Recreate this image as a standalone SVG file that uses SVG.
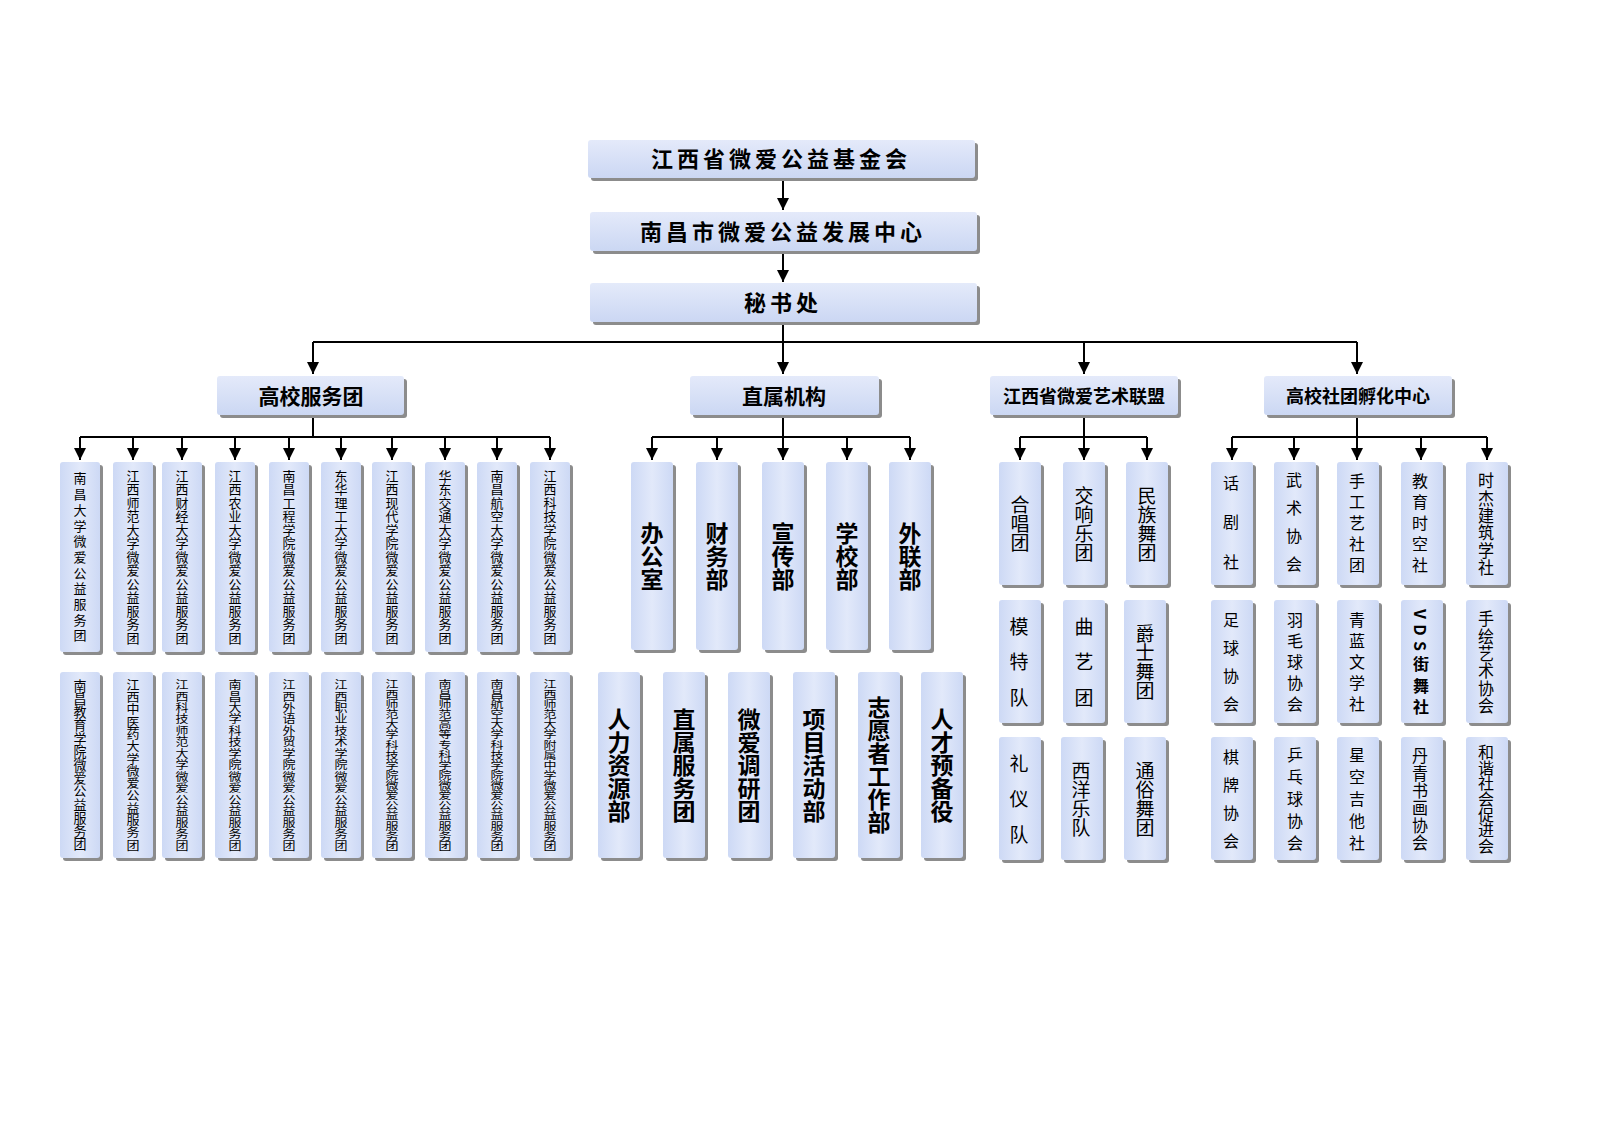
<svg xmlns="http://www.w3.org/2000/svg" width="1600" height="1131" viewBox="0 0 1600 1131">
<defs>
<linearGradient id="g" x1="0" y1="0" x2="1" y2="0"><stop offset="0" stop-color="#cdd9f5"/><stop offset="0.5" stop-color="#e2e9fa"/><stop offset="1" stop-color="#cdd9f5"/></linearGradient>
<linearGradient id="gh" x1="0" y1="0" x2="0" y2="1"><stop offset="0" stop-color="#e4eafa"/><stop offset="1" stop-color="#cbd7f3"/></linearGradient>
<marker id="a" markerWidth="12" markerHeight="12" refX="12" refY="6" orient="auto" markerUnits="userSpaceOnUse" viewBox="0 0 12 12"><path d="M0,0 L12,6 L0,12 Z" fill="#000"/></marker>
</defs>
<style>
.s{fill:#8c8c8c}
.b{fill:url(#g)}
.h{fill:url(#gh)}
text{font-family:"Noto Sans CJK SC","Liberation Serif",serif;fill:#000}
.t1{font-size:22px;font-weight:bold;text-anchor:middle;letter-spacing:4px}
.t2{font-size:21px;font-weight:bold;text-anchor:middle}
.v{writing-mode:vertical-rl;text-anchor:middle;font-size:13px}
.vb{writing-mode:vertical-rl;text-anchor:middle;font-size:23px;font-weight:bold}
.vm{writing-mode:vertical-rl;text-anchor:middle;font-size:19px}
.c line{stroke:#000;stroke-width:2;fill:none}
</style>
<rect width="1600" height="1131" fill="#fff"/>
<g class="c">
<line x1="783" y1="179" x2="783" y2="210" marker-end="url(#a)"/>
<line x1="783" y1="252" x2="783" y2="282" marker-end="url(#a)"/>
<line x1="783" y1="323" x2="783" y2="374" marker-end="url(#a)"/>
<line x1="313" y1="342" x2="1357" y2="342"/>
<line x1="313" y1="342" x2="313" y2="374" marker-end="url(#a)"/>
<line x1="1084" y1="342" x2="1084" y2="374" marker-end="url(#a)"/>
<line x1="1357" y1="342" x2="1357" y2="374" marker-end="url(#a)"/>
<line x1="313" y1="416" x2="313" y2="437"/>
<line x1="80" y1="437" x2="550" y2="437"/>
<line x1="80" y1="437" x2="80" y2="460" marker-end="url(#a)"/><line x1="133" y1="437" x2="133" y2="460" marker-end="url(#a)"/><line x1="182" y1="437" x2="182" y2="460" marker-end="url(#a)"/><line x1="235" y1="437" x2="235" y2="460" marker-end="url(#a)"/><line x1="289" y1="437" x2="289" y2="460" marker-end="url(#a)"/><line x1="341" y1="437" x2="341" y2="460" marker-end="url(#a)"/><line x1="392" y1="437" x2="392" y2="460" marker-end="url(#a)"/><line x1="445" y1="437" x2="445" y2="460" marker-end="url(#a)"/><line x1="497" y1="437" x2="497" y2="460" marker-end="url(#a)"/><line x1="550" y1="437" x2="550" y2="460" marker-end="url(#a)"/>
<line x1="783" y1="416" x2="783" y2="460" marker-end="url(#a)"/>
<line x1="652" y1="437" x2="910" y2="437"/>
<line x1="652" y1="437" x2="652" y2="460" marker-end="url(#a)"/><line x1="717" y1="437" x2="717" y2="460" marker-end="url(#a)"/><line x1="847" y1="437" x2="847" y2="460" marker-end="url(#a)"/><line x1="910" y1="437" x2="910" y2="460" marker-end="url(#a)"/>
<line x1="1084" y1="416" x2="1084" y2="460" marker-end="url(#a)"/>
<line x1="1020" y1="437" x2="1147" y2="437"/>
<line x1="1020" y1="437" x2="1020" y2="460" marker-end="url(#a)"/><line x1="1147" y1="437" x2="1147" y2="460" marker-end="url(#a)"/>
<line x1="1357" y1="416" x2="1357" y2="460" marker-end="url(#a)"/>
<line x1="1232" y1="437" x2="1487" y2="437"/>
<line x1="1232" y1="437" x2="1232" y2="460" marker-end="url(#a)"/><line x1="1294" y1="437" x2="1294" y2="460" marker-end="url(#a)"/><line x1="1421" y1="437" x2="1421" y2="460" marker-end="url(#a)"/><line x1="1487" y1="437" x2="1487" y2="460" marker-end="url(#a)"/>
</g>
<g id="n-top"><rect class="s" x="591" y="143" width="387" height="38" rx="3"/><rect class="h" x="588" y="140" width="387" height="38" rx="3"/><text class="t1" x="781" y="167">江西省微爱公益基金会</text></g>
<g id="n-nc"><rect class="s" x="593" y="215" width="387" height="39" rx="3"/><rect class="h" x="590" y="212" width="387" height="39" rx="3"/><text class="t1" x="783" y="240">南昌市微爱公益发展中心</text></g>
<g id="n-msc"><rect class="s" x="593" y="286" width="387" height="39" rx="3"/><rect class="h" x="590" y="283" width="387" height="39" rx="3"/><text class="t1" x="783" y="311">秘书处</text></g>
<g id="n-gx"><rect class="s" x="220" y="379" width="187" height="39" rx="3"/><rect class="h" x="217" y="376" width="187" height="39" rx="3"/><text class="t2" x="311" y="404">高校服务团</text></g>
<g id="n-zs"><rect class="s" x="693" y="379" width="189" height="39" rx="3"/><rect class="h" x="690" y="376" width="189" height="39" rx="3"/><text class="t2" x="784" y="404">直属机构</text></g>
<g id="n-ys"><rect class="s" x="993" y="379" width="188" height="39" rx="3"/><rect class="h" x="990" y="376" width="188" height="39" rx="3"/><text class="t2" x="1084" y="403" style="font-size:18px">江西省微爱艺术联盟</text></g>
<g id="n-st"><rect class="s" x="1267" y="379" width="188" height="39" rx="3"/><rect class="h" x="1264" y="376" width="188" height="39" rx="3"/><text class="t2" x="1358" y="403" style="font-size:18px">高校社团孵化中心</text></g>

<g id="u1"><rect class="s" x="63" y="465" width="40" height="190" rx="3"/><rect class="b" x="60" y="462" width="40" height="190" rx="3"/><text class="v" x="80" y="557" textLength="170" lengthAdjust="spacing">南昌大学微爱公益服务团</text></g>
<g id="u2"><rect class="s" x="116" y="465" width="40" height="190" rx="3"/><rect class="b" x="113" y="462" width="40" height="190" rx="3"/><text class="v" x="133" y="557" textLength="175" lengthAdjust="spacing">江西师范大学微爱公益服务团</text></g>
<g id="u3"><rect class="s" x="165" y="465" width="40" height="190" rx="3"/><rect class="b" x="162" y="462" width="40" height="190" rx="3"/><text class="v" x="182" y="557" textLength="175" lengthAdjust="spacing">江西财经大学微爱公益服务团</text></g>
<g id="u4"><rect class="s" x="218" y="465" width="40" height="190" rx="3"/><rect class="b" x="215" y="462" width="40" height="190" rx="3"/><text class="v" x="235" y="557" textLength="175" lengthAdjust="spacing">江西农业大学微爱公益服务团</text></g>
<g id="u5"><rect class="s" x="272" y="465" width="40" height="190" rx="3"/><rect class="b" x="269" y="462" width="40" height="190" rx="3"/><text class="v" x="289" y="557" textLength="175" lengthAdjust="spacing">南昌工程学院微爱公益服务团</text></g>
<g id="u6"><rect class="s" x="324" y="465" width="40" height="190" rx="3"/><rect class="b" x="321" y="462" width="40" height="190" rx="3"/><text class="v" x="341" y="557" textLength="175" lengthAdjust="spacing">东华理工大学微爱公益服务团</text></g>
<g id="u7"><rect class="s" x="375" y="465" width="40" height="190" rx="3"/><rect class="b" x="372" y="462" width="40" height="190" rx="3"/><text class="v" x="392" y="557" textLength="175" lengthAdjust="spacing">江西现代学院微爱公益服务团</text></g>
<g id="u8"><rect class="s" x="428" y="465" width="40" height="190" rx="3"/><rect class="b" x="425" y="462" width="40" height="190" rx="3"/><text class="v" x="445" y="557" textLength="175" lengthAdjust="spacing">华东交通大学微爱公益服务团</text></g>
<g id="u9"><rect class="s" x="480" y="465" width="40" height="190" rx="3"/><rect class="b" x="477" y="462" width="40" height="190" rx="3"/><text class="v" x="497" y="557" textLength="175" lengthAdjust="spacing">南昌航空大学微爱公益服务团</text></g>
<g id="u10"><rect class="s" x="533" y="465" width="40" height="190" rx="3"/><rect class="b" x="530" y="462" width="40" height="190" rx="3"/><text class="v" x="550" y="557" textLength="175" lengthAdjust="spacing">江西科技学院微爱公益服务团</text></g>

<g id="u11"><rect class="s" x="63" y="675" width="40" height="186" rx="3"/><rect class="b" x="60" y="672" width="40" height="186" rx="3"/><text class="v" x="80" y="765" textLength="172" lengthAdjust="spacingAndGlyphs">南昌教育学院微爱公益服务团</text></g>
<g id="u12"><rect class="s" x="116" y="675" width="40" height="186" rx="3"/><rect class="b" x="113" y="672" width="40" height="186" rx="3"/><text class="v" x="133" y="765" textLength="172" lengthAdjust="spacingAndGlyphs">江西中医药大学微爱公益服务团</text></g>
<g id="u13"><rect class="s" x="165" y="675" width="40" height="186" rx="3"/><rect class="b" x="162" y="672" width="40" height="186" rx="3"/><text class="v" x="182" y="765" textLength="172" lengthAdjust="spacingAndGlyphs">江西科技师范大学微爱公益服务团</text></g>
<g id="u14"><rect class="s" x="218" y="675" width="40" height="186" rx="3"/><rect class="b" x="215" y="672" width="40" height="186" rx="3"/><text class="v" x="235" y="765" textLength="172" lengthAdjust="spacingAndGlyphs">南昌大学科技学院微爱公益服务团</text></g>
<g id="u15"><rect class="s" x="272" y="675" width="40" height="186" rx="3"/><rect class="b" x="269" y="672" width="40" height="186" rx="3"/><text class="v" x="289" y="765" textLength="172" lengthAdjust="spacingAndGlyphs">江西外语外贸学院微爱公益服务团</text></g>
<g id="u16"><rect class="s" x="324" y="675" width="40" height="186" rx="3"/><rect class="b" x="321" y="672" width="40" height="186" rx="3"/><text class="v" x="341" y="765" textLength="172" lengthAdjust="spacingAndGlyphs">江西职业技术学院微爱公益服务团</text></g>
<g id="u17"><rect class="s" x="375" y="675" width="40" height="186" rx="3"/><rect class="b" x="372" y="672" width="40" height="186" rx="3"/><text class="v" x="392" y="765" textLength="172" lengthAdjust="spacingAndGlyphs">江西师范大学科技学院微爱公益服务团</text></g>
<g id="u18"><rect class="s" x="428" y="675" width="40" height="186" rx="3"/><rect class="b" x="425" y="672" width="40" height="186" rx="3"/><text class="v" x="445" y="765" textLength="172" lengthAdjust="spacingAndGlyphs">南昌师范高等专科学院微爱公益服务团</text></g>
<g id="u19"><rect class="s" x="480" y="675" width="40" height="186" rx="3"/><rect class="b" x="477" y="672" width="40" height="186" rx="3"/><text class="v" x="497" y="765" textLength="172" lengthAdjust="spacingAndGlyphs">南昌航空大学科技学院微爱公益服务团</text></g>
<g id="u20"><rect class="s" x="533" y="675" width="40" height="186" rx="3"/><rect class="b" x="530" y="672" width="40" height="186" rx="3"/><text class="v" x="550" y="765" textLength="172" lengthAdjust="spacingAndGlyphs">江西师范大学附属中学微爱公益服务团</text></g>

<g id="z1"><rect class="s" x="634" y="465" width="42" height="188" rx="3"/><rect class="b" x="631" y="462" width="42" height="188" rx="3"/><text class="vb" x="652" y="556">办公室</text></g>
<g id="z2"><rect class="s" x="699" y="465" width="42" height="188" rx="3"/><rect class="b" x="696" y="462" width="42" height="188" rx="3"/><text class="vb" x="717" y="556">财务部</text></g>
<g id="z3"><rect class="s" x="765" y="465" width="42" height="188" rx="3"/><rect class="b" x="762" y="462" width="42" height="188" rx="3"/><text class="vb" x="783" y="556">宣传部</text></g>
<g id="z4"><rect class="s" x="829" y="465" width="42" height="188" rx="3"/><rect class="b" x="826" y="462" width="42" height="188" rx="3"/><text class="vb" x="847" y="556">学校部</text></g>
<g id="z5"><rect class="s" x="892" y="465" width="42" height="188" rx="3"/><rect class="b" x="889" y="462" width="42" height="188" rx="3"/><text class="vb" x="910" y="556">外联部</text></g>

<g id="z6"><rect class="s" x="601" y="675" width="42" height="186" rx="3"/><rect class="b" x="598" y="672" width="42" height="186" rx="3"/><text class="vb" x="619" y="765">人力资源部</text></g>
<g id="z7"><rect class="s" x="666" y="675" width="42" height="186" rx="3"/><rect class="b" x="663" y="672" width="42" height="186" rx="3"/><text class="vb" x="684" y="765">直属服务团</text></g>
<g id="z8"><rect class="s" x="731" y="675" width="42" height="186" rx="3"/><rect class="b" x="728" y="672" width="42" height="186" rx="3"/><text class="vb" x="749" y="765">微爱调研团</text></g>
<g id="z9"><rect class="s" x="796" y="675" width="42" height="186" rx="3"/><rect class="b" x="793" y="672" width="42" height="186" rx="3"/><text class="vb" x="814" y="765">项目活动部</text></g>
<g id="z10"><rect class="s" x="861" y="675" width="42" height="186" rx="3"/><rect class="b" x="858" y="672" width="42" height="186" rx="3"/><text class="vb" x="879" y="765">志愿者工作部</text></g>
<g id="z11"><rect class="s" x="924" y="675" width="42" height="186" rx="3"/><rect class="b" x="921" y="672" width="42" height="186" rx="3"/><text class="vb" x="942" y="765">人才预备役</text></g>

<g id="y1"><rect class="s" x="1002" y="465" width="42" height="123" rx="3"/><rect class="b" x="999" y="462" width="42" height="123" rx="3"/><text class="vm" x="1020" y="524">合唱团</text></g>
<g id="y2"><rect class="s" x="1066" y="465" width="42" height="123" rx="3"/><rect class="b" x="1063" y="462" width="42" height="123" rx="3"/><text class="vm" x="1084" y="524">交响乐团</text></g>
<g id="y3"><rect class="s" x="1129" y="465" width="42" height="123" rx="3"/><rect class="b" x="1126" y="462" width="42" height="123" rx="3"/><text class="vm" x="1147" y="524">民族舞团</text></g>
<g id="y4"><rect class="s" x="1002" y="603" width="42" height="123" rx="3"/><rect class="b" x="999" y="600" width="42" height="123" rx="3"/><text class="vm" x="1019" y="662" textLength="90" lengthAdjust="spacing">模特队</text></g>
<g id="y5"><rect class="s" x="1066" y="603" width="42" height="123" rx="3"/><rect class="b" x="1063" y="600" width="42" height="123" rx="3"/><text class="vm" x="1084" y="662" textLength="90" lengthAdjust="spacing">曲艺团</text></g>
<g id="y6"><rect class="s" x="1127" y="603" width="42" height="123" rx="3"/><rect class="b" x="1124" y="600" width="42" height="123" rx="3"/><text class="vm" x="1145" y="662">爵士舞团</text></g>
<g id="y7"><rect class="s" x="1002" y="740" width="42" height="123" rx="3"/><rect class="b" x="999" y="737" width="42" height="123" rx="3"/><text class="vm" x="1019" y="799" textLength="90" lengthAdjust="spacing">礼仪队</text></g>
<g id="y8"><rect class="s" x="1064" y="740" width="42" height="123" rx="3"/><rect class="b" x="1061" y="737" width="42" height="123" rx="3"/><text class="vm" x="1081" y="799">西洋乐队</text></g>
<g id="y9"><rect class="s" x="1127" y="740" width="42" height="123" rx="3"/><rect class="b" x="1124" y="737" width="42" height="123" rx="3"/><text class="vm" x="1145" y="799">通俗舞团</text></g>

<g id="s1"><rect class="s" x="1214" y="465" width="42" height="123" rx="3"/><rect class="b" x="1211" y="462" width="42" height="123" rx="3"/><text class="vm" x="1231" y="522" style="font-size:16px" textLength="95" lengthAdjust="spacing">话剧社</text></g>
<g id="s2"><rect class="s" x="1277" y="465" width="42" height="123" rx="3"/><rect class="b" x="1274" y="462" width="42" height="123" rx="3"/><text class="vm" x="1294" y="522" style="font-size:16px" textLength="100" lengthAdjust="spacing">武术协会</text></g>
<g id="s3"><rect class="s" x="1340" y="465" width="42" height="123" rx="3"/><rect class="b" x="1337" y="462" width="42" height="123" rx="3"/><text class="vm" x="1357" y="523" style="font-size:16px" textLength="100" lengthAdjust="spacing">手工艺社团</text></g>
<g id="s4"><rect class="s" x="1404" y="465" width="42" height="123" rx="3"/><rect class="b" x="1401" y="462" width="42" height="123" rx="3"/><text class="vm" x="1420" y="523" style="font-size:16px" textLength="100" lengthAdjust="spacing">教育时空社</text></g>
<g id="s5"><rect class="s" x="1469" y="465" width="42" height="123" rx="3"/><rect class="b" x="1466" y="462" width="42" height="123" rx="3"/><text class="vm" x="1486" y="524" style="font-size:16px" textLength="104" lengthAdjust="spacingAndGlyphs">时杰建筑学社</text></g>
<g id="s6"><rect class="s" x="1214" y="603" width="42" height="123" rx="3"/><rect class="b" x="1211" y="600" width="42" height="123" rx="3"/><text class="vm" x="1231" y="662" style="font-size:16px" textLength="100" lengthAdjust="spacing">足球协会</text></g>
<g id="s7"><rect class="s" x="1277" y="603" width="42" height="123" rx="3"/><rect class="b" x="1274" y="600" width="42" height="123" rx="3"/><text class="vm" x="1295" y="662" style="font-size:16px" textLength="100" lengthAdjust="spacing">羽毛球协会</text></g>
<g id="s8"><rect class="s" x="1340" y="603" width="42" height="123" rx="3"/><rect class="b" x="1337" y="600" width="42" height="123" rx="3"/><text class="vm" x="1357" y="662" style="font-size:16px" textLength="100" lengthAdjust="spacing">青蓝文学社</text></g>
<g id="s9"><rect class="s" x="1404" y="603" width="42" height="123" rx="3"/><rect class="b" x="1401" y="600" width="42" height="123" rx="3"/><text class="vm" x="1421" y="662" style="font-size:16px;font-weight:bold" textLength="106" lengthAdjust="spacing">VDS街舞社</text></g>
<g id="s10"><rect class="s" x="1469" y="603" width="42" height="123" rx="3"/><rect class="b" x="1466" y="600" width="42" height="123" rx="3"/><text class="vm" x="1486" y="662" style="font-size:16px" textLength="104" lengthAdjust="spacingAndGlyphs">手绘艺术协会</text></g>
<g id="s11"><rect class="s" x="1214" y="740" width="42" height="123" rx="3"/><rect class="b" x="1211" y="737" width="42" height="123" rx="3"/><text class="vm" x="1231" y="799" style="font-size:16px" textLength="100" lengthAdjust="spacing">棋牌协会</text></g>
<g id="s12"><rect class="s" x="1277" y="740" width="42" height="123" rx="3"/><rect class="b" x="1274" y="737" width="42" height="123" rx="3"/><text class="vm" x="1295" y="799" style="font-size:16px" textLength="104" lengthAdjust="spacing">乒乓球协会</text></g>
<g id="s13"><rect class="s" x="1340" y="740" width="42" height="123" rx="3"/><rect class="b" x="1337" y="737" width="42" height="123" rx="3"/><text class="vm" x="1357" y="799" style="font-size:16px" textLength="104" lengthAdjust="spacing">星空吉他社</text></g>
<g id="s14"><rect class="s" x="1404" y="740" width="42" height="123" rx="3"/><rect class="b" x="1401" y="737" width="42" height="123" rx="3"/><text class="vm" x="1420" y="799" style="font-size:16px" textLength="104" lengthAdjust="spacingAndGlyphs">丹青书画协会</text></g>
<g id="s15"><rect class="s" x="1469" y="740" width="42" height="123" rx="3"/><rect class="b" x="1466" y="737" width="42" height="123" rx="3"/><text class="vm" x="1486" y="799" style="font-size:16px" textLength="110" lengthAdjust="spacingAndGlyphs">和谐社会促进会</text></g>
</svg>
